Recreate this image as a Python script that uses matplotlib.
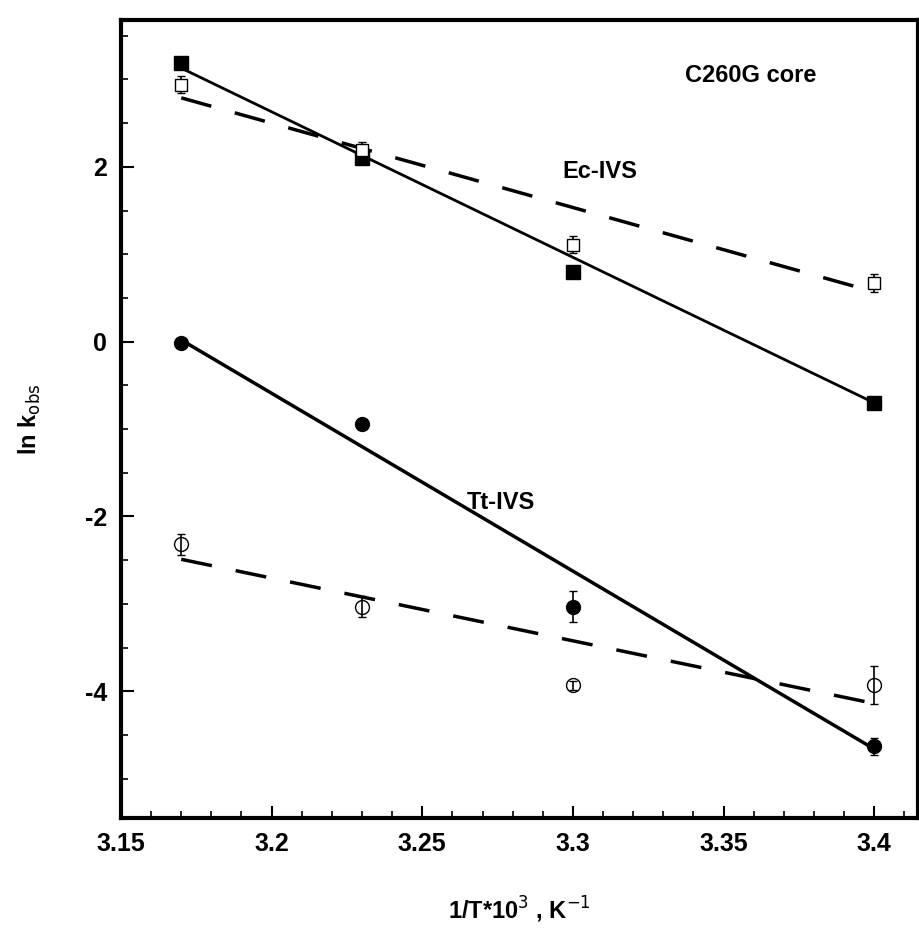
import numpy as np
import matplotlib.pyplot as plt
from matplotlib.ticker import MultipleLocator

plt.rcParams['font.family'] = ['Liberation Sans', 'DejaVu Sans']
plt.rcParams['axes.unicode_minus'] = False

x = [3.17, 3.23, 3.30, 3.40]

# Ec-IVS
ec_filled = [3.19, 2.10, 0.80, -0.70]
ec_filled_err = [0.05, 0.05, 0.05, 0.05]
ec_open = [2.94, 2.19, 1.11, 0.67]
ec_open_err = [0.1, 0.1, 0.1, 0.1]
# Tt-IVS
tt_filled = [-0.01, -0.94, -3.03, -4.63]
tt_filled_err = [0.05, 0.05, 0.18, 0.1]
tt_open = [-2.32, -3.03, -3.93, -3.93]
tt_open_err = [0.12, 0.12, 0.05, 0.22]

# fit lines, end points
fit_x = [3.17, 3.40]
ec_solid_fit = [3.13, -0.70]
ec_dash_fit = [2.79, 0.57]
tt_solid_fit = [0.02, -4.66]
tt_dash_fit = [-2.49, -4.14]

fig = plt.figure(figsize=(9.2, 9.41), dpi=100)
ax = fig.add_axes([0.1315, 0.1307, 0.8665, 0.848])

ax.plot(fit_x, ec_solid_fit, '-', color='black', lw=2)
ax.plot(fit_x, ec_dash_fit, '--', color='black', lw=2.5, dashes=(9, 7))
ax.plot(fit_x, tt_solid_fit, '-', color='black', lw=2.5)
ax.plot(fit_x, tt_dash_fit, '--', color='black', lw=2.5, dashes=(9, 7))

ax.errorbar(x, ec_filled, yerr=ec_filled_err, fmt='s', color='black', ms=10,
            mfc='black', capsize=3, elinewidth=1.2)
ax.errorbar(x, ec_open, yerr=ec_open_err, fmt='s', color='black', ms=9,
            mfc='white', capsize=3, elinewidth=1.2)
ax.errorbar(x, tt_filled, yerr=tt_filled_err, fmt='o', color='black', ms=10,
            mfc='black', capsize=3, elinewidth=1.2)
ax.errorbar(x, tt_open, yerr=tt_open_err, fmt='o', color='black', ms=10,
            mfc='none', capsize=3, elinewidth=1.2)

ax.set_xlim(3.15, 3.4146)
ax.set_ylim(-5.45, 3.68)
ax.set_xticks([3.15, 3.2, 3.25, 3.3, 3.35, 3.4])
ax.set_xticklabels(['3.15', '3.2', '3.25', '3.3', '3.35', '3.4'])
ax.set_yticks([-4, -2, 0, 2])
ax.xaxis.set_minor_locator(MultipleLocator(0.01))
ax.yaxis.set_minor_locator(MultipleLocator(0.5))
ax.tick_params(which='major', direction='in', length=9, width=1.5,
               labelsize=18, pad=10)
ax.tick_params(which='minor', direction='in', length=5, width=1.2)
for lab in ax.get_xticklabels() + ax.get_yticklabels():
    lab.set_fontweight('bold')

for s in ax.spines.values():
    s.set_linewidth(3)

ax.text(0.79, 0.93, 'C260G core', transform=ax.transAxes, fontsize=17,
        fontweight='bold', ha='center', va='center')
ax.text(3.309, 1.95, 'Ec-IVS', fontsize=17, fontweight='bold', ha='center', va='center')
ax.text(3.276, -1.84, 'Tt-IVS', fontsize=17, fontweight='bold', ha='center', va='center')

ax.set_xlabel(r'1/T*10$^3$ , K$^{-1}$', fontsize=17, fontweight='bold', labelpad=28)
ax.set_ylabel(r'ln k$_{\rm obs}$', fontsize=17, fontweight='bold', labelpad=30)

fig.savefig('out.png', dpi=100)
